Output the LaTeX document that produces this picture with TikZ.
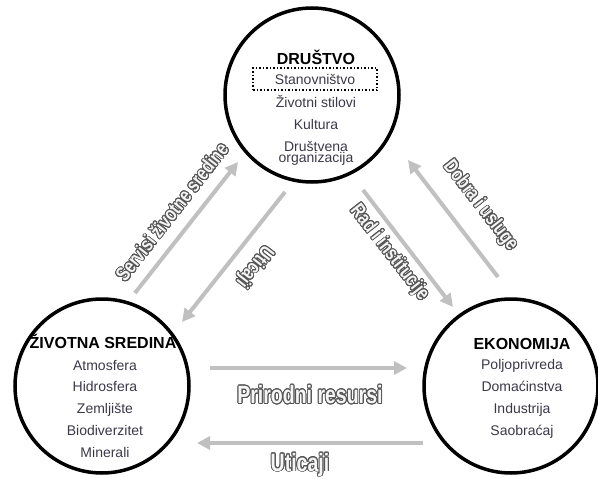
\documentclass[tikz,border=0pt]{standalone}
\usepackage{fontspec}
\setmainfont{Liberation Sans}
\newfontfamily\lblfont[FakeStretch=0.78]{Liberation Sans}
\usepackage[copies]{contour}
\contourlength{0.9pt}
\contournumber{24}
\usetikzlibrary{arrows.meta}
\definecolor{arrowgray}{RGB}{192,192,192}
\definecolor{itemgray}{RGB}{60,56,72}
\definecolor{rimgray}{RGB}{85,85,85}
\newcommand{\flowlabel}[1]{\contour{rimgray}{\textcolor{gray!8}{#1}}}
\tikzset{
 ring/.style={circle,draw,line width=3.5pt,minimum size=174pt,inner sep=0pt},
 flow/.style={draw=arrowgray,line width=4pt,-{Triangle[length=13pt,width=13pt]}},
 head/.style={anchor=base,font=\fontsize{16}{16}\selectfont\bfseries},
 items/.style={anchor=base,align=center,text=itemgray,font=\fontsize{14}{21.7}\selectfont},
 biglabel/.style={font=\lblfont\bfseries\fontsize{25}{25}\selectfont},
 diaglabel/.style={font=\lblfont\bfseries\fontsize{20}{20}\selectfont}
}
\begin{document}
\begin{tikzpicture}[x=1pt,y=-1pt]
 \useasboundingbox (0,0) rectangle (598,479);
 \node[ring] (drustvo) at (312,95) {};
 \node[ring] (sredina) at (102,386) {};
 \node[ring] (ekonomija) at (511,386) {};
 \node[head] (drustvoHead) at (316,64) {DRUŠTVO};
 \node[draw,dotted,line width=1.5pt,minimum width=124pt,minimum height=22pt,inner sep=0pt,text=itemgray,font=\fontsize{14}{14}\selectfont] (stanovnistvo) at (315,79) {Stanovništvo};
 \node[items] (drustvoItems) at (316,162) {Životni stilovi\\Kultura\\Društvena\\[-11pt]organizacija};
 \node[head] (sredinaHead) at (103,348) {ŽIVOTNA SREDINA};
 \node[items] (sredinaItems) at (105,457) {Atmosfera\\Hidrosfera\\Zemljište\\Biodiverzitet\\Minerali};
 \node[head] (ekonomijaHead) at (522,349) {EKONOMIJA};
 \node[items] (ekonomijaItems) at (522,435) {Poljoprivreda\\Domaćinstva\\Industrija\\Saobraćaj};
 \draw[flow] ([shift={(33,-93)}]sredina.center) -- ([shift={(-74,67)}]drustvo.center);
 \draw[flow] ([shift={(-27,97)}]drustvo.center) -- ([shift={(80,-64)}]sredina.center);
 \draw[flow] ([shift={(51,95)}]drustvo.center) -- ([shift={(-58,-79)}]ekonomija.center);
 \draw[flow] ([shift={(-13,-109)}]ekonomija.center) -- ([shift={(96,65)}]drustvo.center);
 \draw[flow] ([shift={(108,-18)}]sredina.center) -- ([shift={(-104,-18)}]ekonomija.center);
 \draw[flow] ([shift={(-88,57)}]ekonomija.center) -- ([shift={(95,57)}]sredina.center);
 \node[diaglabel,rotate=52] (servisiLabel) at (172,212) {\flowlabel{Servisi životne sredine}};
 \node[diaglabel,rotate=232] (uticajiGore) at (254,266) {\flowlabel{Uticaji}};
 \node[diaglabel,rotate=-52] (radLabel) at (389,253) {\flowlabel{Rad i institucije}};
 \node[diaglabel,rotate=-52] (dobraLabel) at (480,206) {\flowlabel{Dobra i usluge}};
 \node[biglabel] (resursiLabel) at (310,395) {\flowlabel{Prirodni resursi}};
 \node[biglabel] (uticajiDole) at (300,465) {\flowlabel{Uticaji}};
\end{tikzpicture}
\end{document}
